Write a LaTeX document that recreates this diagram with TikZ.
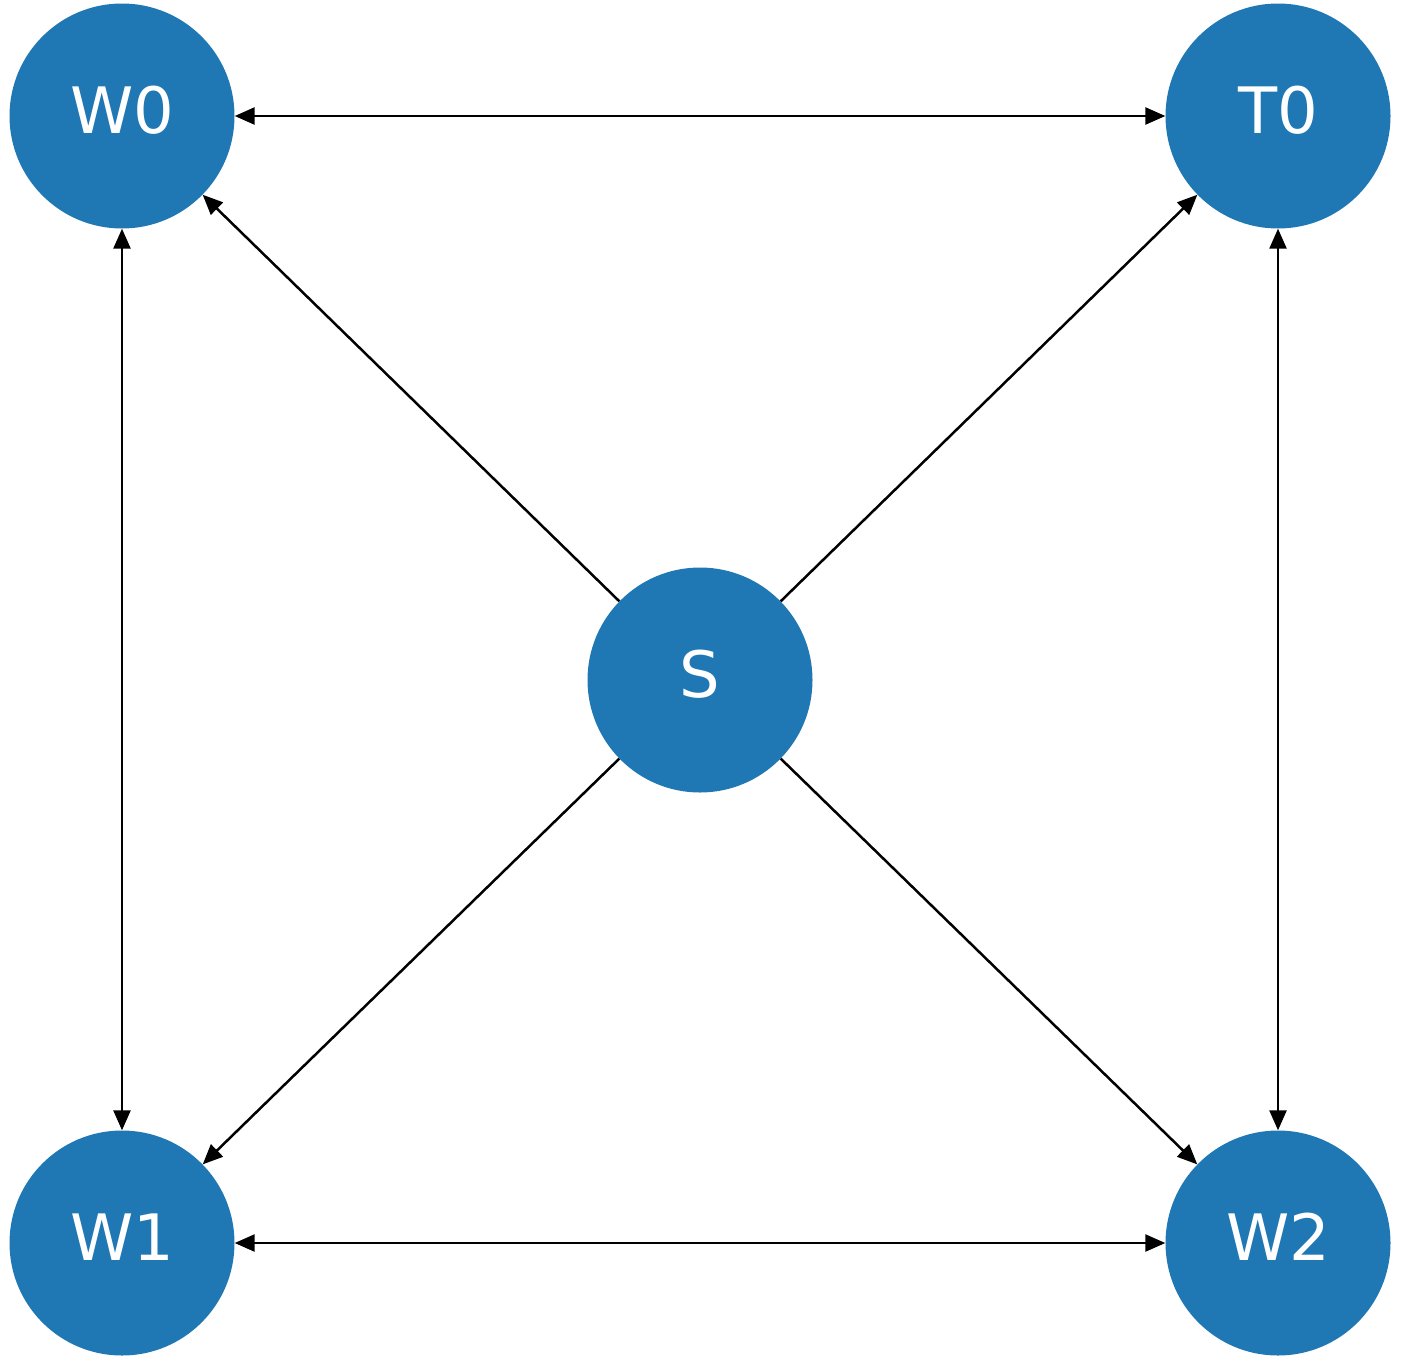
\documentclass[tikz,border=0pt]{standalone}
\usepackage{fontspec}
\setmainfont{DejaVu Sans}
\usetikzlibrary{arrows.meta}
\definecolor{nodeblue}{HTML}{1F77B4}
\begin{document}
\begin{tikzpicture}[x=1pt,y=-1pt,
  vert/.style={circle,fill=nodeblue,draw=none,minimum size=225pt,inner sep=0pt,text=white,
    text height=47pt,text depth=12pt,font=\fontsize{64}{64}\selectfont},
  edge/.style={line width=2.5pt,-{Triangle[length=20pt,width=17pt]}},
  bedge/.style={line width=2.5pt,{Triangle[length=20pt,width=17pt]}-{Triangle[length=20pt,width=17pt]}}]
\useasboundingbox (0,0) rectangle (1404,1363);
\node[vert] (W0) at (122,116) {W0};
\node[vert] (T0) at (1278,116) {T0};
\node[vert] (W1) at (122,1243) {W1};
\node[vert] (W2) at (1278,1243) {W2};
\node[vert] (S) at (700,680) {S};
\draw[bedge] (W0) -- (T0);
\draw[bedge] (W0) -- (W1);
\draw[bedge] (T0) -- (W2);
\draw[bedge] (W1) -- (W2);
\draw[edge] (S) -- (W0);
\draw[edge] (S) -- (T0);
\draw[edge] (S) -- (W1);
\draw[edge] (S) -- (W2);
\end{tikzpicture}
\end{document}
